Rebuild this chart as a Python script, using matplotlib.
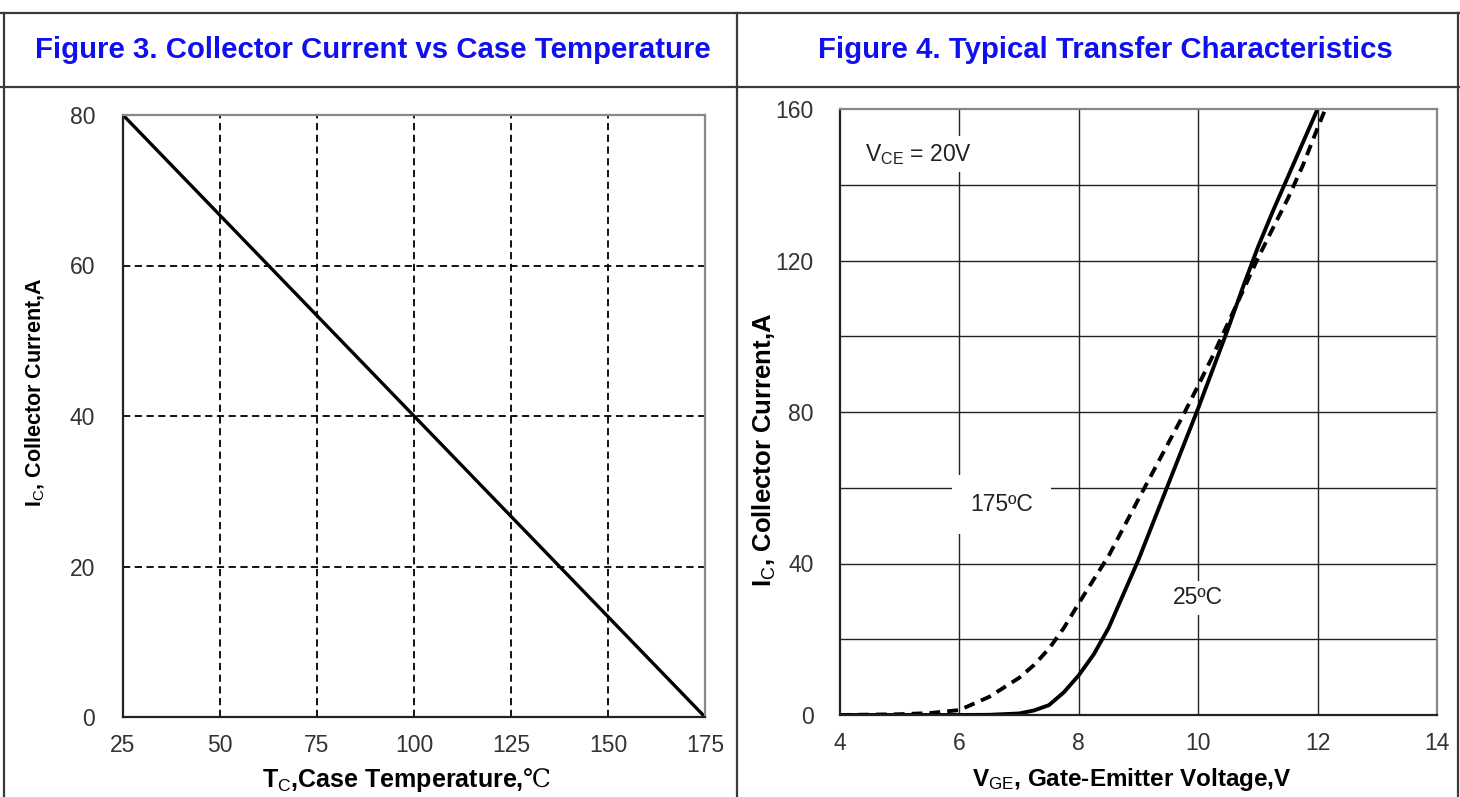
import matplotlib
matplotlib.use("Agg")
import matplotlib.pyplot as plt
from matplotlib.lines import Line2D

plt.rcParams["font.family"] = ["Liberation Sans", "DejaVu Sans"]
plt.rcParams["mathtext.fontset"] = "custom"
plt.rcParams["mathtext.rm"] = "Liberation Sans"
plt.rcParams["mathtext.bf"] = "Liberation Sans:bold"
plt.rcParams["mathtext.sf"] = "DejaVu Serif"
plt.rcParams["mathtext.default"] = "regular"

# Figure 3: derating line
TC = [25, 175]
IC_DERATE = [80, 0]
TC_TICKS = [25, 50, 75, 100, 125, 150, 175]
IC3_TICKS = [0, 20, 40, 60, 80]

# Figure 4: transfer characteristics
VGE_25 = [4, 5, 6, 6.5, 7, 7.25, 7.5, 7.75, 8, 8.25, 8.5, 8.75, 9, 9.25, 9.5,
          9.75, 10, 10.25, 10.5, 10.75, 11, 11.25, 11.5, 11.75, 12]
IC_25 = [0, 0, 0, 0.05, 0.4, 1.2, 2.6, 6.0, 10.5, 16, 23, 32, 41, 51, 61,
         71, 81, 91.5, 102, 113, 123.5, 133, 142, 151, 160]
VGE_175 = [4, 5, 5.5, 6, 6.5, 7, 7.25, 7.5, 7.75, 8, 8.25, 8.5, 8.75, 9, 9.25,
           9.5, 9.75, 10, 10.25, 10.5, 10.75, 11, 11.25, 11.5, 11.75, 12, 12.13, 12.3]
IC_175 = [0, 0.2, 0.5, 1.3, 4.8, 9.8, 13.2, 17.5, 23, 29.5, 35.8, 42, 49.5, 57, 64.4,
          71.8, 79.2, 87, 95, 103.5, 112, 120.6, 128.5, 136.3, 145, 155, 160, 166]
VGE_TICKS = [4, 6, 8, 10, 12, 14]
IC4_TICKS = [0, 40, 80, 120, 160]
IC4_GRID = [20, 40, 60, 80, 100, 120, 140]

W, H = 1460, 797
fig = plt.figure(figsize=(W / 100, H / 100), dpi=100)


def fx(px):
    return px / W


def fy(py):
    return 1 - py / H


# table frame
for x0, y0, x1, y1 in [(0, 13, W, 13), (0, 87, W, 87), (4, 13, 4, H),
                       (737, 13, 737, H), (1458, 13, 1458, H)]:
    fig.add_artist(Line2D([fx(x0), fx(x1)], [fy(y0), fy(y1)], color="#3a3a3a",
                          lw=1.6, transform=fig.transFigure))

title_kw = dict(color="#1010ee", fontsize=21.2, fontweight="bold", ha="center", va="center")
fig.text(fx(373), fy(50), "Figure 3. Collector Current vs Case Temperature", **title_kw)
fig.text(fx(1105), fy(50), "Figure 4. Typical Transfer Characteristics", **title_kw)

tick_kw = dict(labelsize=16.5, labelcolor="#333333", length=0)


def style_spines(ax):
    for side in ["top", "right"]:
        ax.spines[side].set_color("#888888")
        ax.spines[side].set_linewidth(1.6)
    for side in ["bottom", "left"]:
        ax.spines[side].set_color("#222222")
        ax.spines[side].set_linewidth(1.6)


# ---- Figure 3 ----
ax1 = fig.add_axes([fx(123), fy(717), fx(705 - 123), (717 - 115) / H])
ax1.plot(TC, IC_DERATE, color="black", lw=2.4, solid_capstyle="butt")
ax1.set_xlim(25, 175)
ax1.set_ylim(0, 80)
ax1.set_xticks(TC_TICKS)
ax1.set_yticks(IC3_TICKS)
for x in TC_TICKS[1:-1]:
    ax1.axvline(x, color="black", lw=1.3, ls=(0, (4, 2.5)), zorder=0)
for y in IC3_TICKS[1:-1]:
    ax1.axhline(y, color="black", lw=1.3, ls=(0, (4, 2.5)), zorder=0)
ax1.tick_params(axis="x", pad=12, **tick_kw)
ax1.tick_params(axis="y", pad=20, **tick_kw)
style_spines(ax1)
ax1.set_xlabel(r"T$_\mathrm{C}$,Case Temperature,$\mathsf{℃}$", fontsize=18, fontweight="bold")
ax1.xaxis.set_label_coords((407 - 123) / 582, -(766 - 717) / 602)
ax1.set_ylabel(r"I$_\mathrm{C}$, Collector Current,A", fontsize=15.5, fontweight="bold")
ax1.yaxis.set_label_coords(-(123 - 47) / 582, (717 - 392) / 602)

# ---- Figure 4 ----
ax2 = fig.add_axes([fx(840), fy(715), fx(1437 - 840), (715 - 109) / H])
for x in VGE_TICKS[1:-1]:
    ax2.axvline(x, color="#222222", lw=1.0, zorder=0)
for y in IC4_GRID:
    ax2.axhline(y, color="#222222", lw=1.0, zorder=0)
ax2.plot(VGE_175, IC_175, color="black", lw=2.8, ls=(0, (2.8, 1.8)))
ax2.plot(VGE_25, IC_25, color="black", lw=2.8)
ax2.set_xlim(4, 14)
ax2.set_ylim(0, 160)
ax2.set_xticks(VGE_TICKS)
ax2.set_yticks(IC4_TICKS)
ax2.tick_params(axis="x", pad=12, **tick_kw)
ax2.tick_params(axis="y", pad=19, **tick_kw)
style_spines(ax2)
ax2.set_xlabel(r"V$_\mathrm{GE}$, Gate-Emitter Voltage,V", fontsize=17.5, fontweight="bold")
ax2.xaxis.set_label_coords((1132 - 840) / 597, -(766 - 715) / 606)
ax2.set_ylabel(r"I$_\mathrm{C}$, Collector Current,A", fontsize=18.5, fontweight="bold")
ax2.yaxis.set_label_coords(-(840 - 778) / 597, (715 - 450) / 606)

ax2.text(4.42, 148, r"V$_\mathrm{CE}$ = 20V", fontsize=16.5, color="#222222",
         va="center", ha="left", bbox=dict(facecolor="white", edgecolor="none", pad=4))
ax2.text(6.7, 55.5, "175ºC", fontsize=16.5, color="#222222", va="center", ha="center",
         bbox=dict(facecolor="white", edgecolor="none", pad=13))
ax2.text(10.0, 31, "25ºC", fontsize=16.5, color="#222222", va="center", ha="center",
         bbox=dict(facecolor="white", edgecolor="none", pad=4))

fig.savefig("out.png", dpi=100)
